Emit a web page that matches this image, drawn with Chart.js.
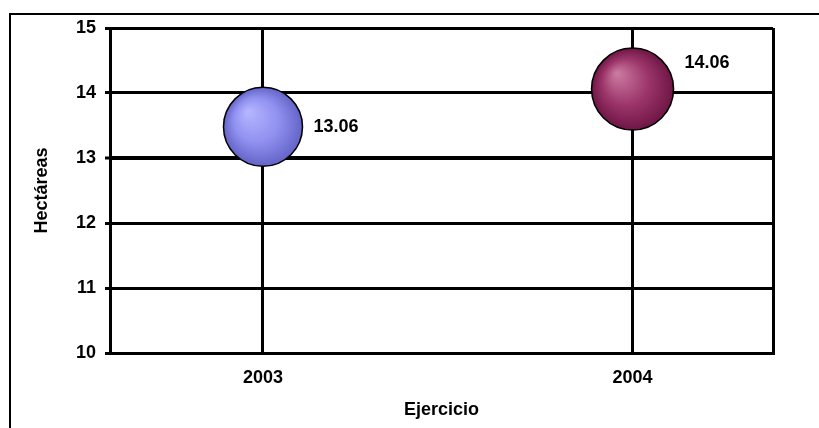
<!DOCTYPE html>
<html>
<head>
<meta charset="utf-8">
<script src="https://cdn.jsdelivr.net/npm/chart.js@4.4.1/dist/chart.umd.min.js"></script>
<style>
  html, body { margin: 0; padding: 0; background: #fff; overflow: hidden; }
  .frame {
    position: absolute; left: 9px; top: 13px; width: 900px; height: 500px;
    border-left: 2px solid #000; border-top: 2px solid #000;
  }
  #chart { position: absolute; left: 0; top: 0; }
</style>
</head>
<body>
<div class="frame"></div>
<canvas id="chart" width="819" height="428" aria-label="Hectáreas por ejercicio"></canvas>
<script>
const years = [2003, 2004];
const hectareas = [13.48, 14.06];
const bubbleSizes = [13.06, 14.06];
const yTicks = [10, 11, 12, 13, 14, 15];
const xRange = [2002.586, 2004.38];

// sphere shading per bubble: highlight, body, rim
const sphereColors = [
  ["#b4b4ff", "#9090f0", "#6464c8"],
  ["#c9789f", "#9c3569", "#6e1645"],
];

const FONT = "'Liberation Sans', Arial, sans-serif";
const MAX_RADIUS = 41;

const bubbleLabels = {
  id: "bubbleLabels",
  afterDatasetsDraw(chart, args, opts) {
    const { ctx } = chart;
    const meta = chart.getDatasetMeta(0);
    ctx.save();
    ctx.font = opts.font;
    ctx.fillStyle = "#000";
    ctx.textAlign = "left";
    ctx.textBaseline = "middle";
    meta.data.forEach((el, i) => {
      const r = el.options.radius;
      ctx.fillText(bubbleSizes[i].toFixed(2), el.x + r + opts.gap, el.y - (opts.lift[i] || 0));
    });
    ctx.restore();
  },
};

function sphereFill(c) {
  const colors = sphereColors[c.dataIndex] || sphereColors[0];
  const chart = c.chart;
  if (c.type !== "data" || !chart.chartArea) {
    return colors[1];
  }
  const x = chart.scales.x.getPixelForValue(c.raw.x);
  const y = chart.scales.y.getPixelForValue(c.raw.y);
  const r = c.raw.r;
  const g = chart.ctx.createRadialGradient(x - r * 0.38, y - r * 0.38, r * 0.04, x, y, r);
  g.addColorStop(0, colors[0]);
  g.addColorStop(0.55, colors[1]);
  g.addColorStop(1, colors[2]);
  return g;
}

const maxSize = Math.max(...bubbleSizes);
const points = years.map((yr, i) => ({
  x: yr,
  y: hectareas[i],
  r: MAX_RADIUS * Math.sqrt(bubbleSizes[i] / maxSize),
}));

new Chart(document.getElementById("chart"), {
  type: "bubble",
  data: {
    datasets: [
      {
        label: "Hectáreas",
        data: points,
        backgroundColor: sphereFill,
        borderColor: "#000",
        borderWidth: 1.5,
        hoverRadius: 0,
        clip: false,
      },
    ],
  },
  plugins: [bubbleLabels],
  options: {
    responsive: false,
    animation: false,
    events: [],
    layout: { autoPadding: false, padding: { left: 0, top: 28, right: 46, bottom: 0 } },
    plugins: {
      legend: { display: false },
      tooltip: { enabled: false },
      bubbleLabels: { font: "bold 18px " + FONT, gap: 11, lift: [0, 26] },
    },
    scales: {
      x: {
        type: "linear",
        min: xRange[0],
        max: xRange[1],
        afterBuildTicks: (s) => {
          s.ticks = [xRange[0], ...years, xRange[1]].map((v) => ({ value: v }));
        },
        afterFit: (s) => {
          s.height = 75;
        },
        ticks: {
          autoSkip: false,
          maxRotation: 0,
          padding: 14,
          color: "#000",
          font: { family: FONT, size: 18, weight: "bold" },
          callback: (v) => (years.includes(v) ? String(v) : ""),
        },
        grid: { color: "#000", lineWidth: 3, drawTicks: false },
        border: { color: "#000", width: 3 },
        title: {
          display: true,
          text: "Ejercicio",
          color: "#000",
          font: { family: FONT, size: 18, weight: "bold" },
          padding: { top: 0, bottom: 7 },
        },
      },
      y: {
        min: 10,
        max: 15,
        afterBuildTicks: (s) => {
          s.ticks = yTicks.map((v) => ({ value: v }));
        },
        afterFit: (s) => {
          s.width = 110;
        },
        ticks: {
          padding: 9,
          color: "#000",
          font: { family: FONT, size: 18, weight: "bold" },
        },
        grid: {
          color: "#000",
          lineWidth: (c) => (c.tick && c.tick.value === 13 ? 4 : 3),
          tickLength: 5,
          tickColor: "#000",
          tickWidth: 3,
        },
        border: { color: "#000", width: 3 },
        title: {
          display: true,
          text: "Hectáreas",
          color: "#000",
          font: { family: FONT, size: 18, weight: "bold" },
          padding: { top: 31, bottom: 0 },
        },
      },
    },
  },
});
</script>
</body>
</html>
